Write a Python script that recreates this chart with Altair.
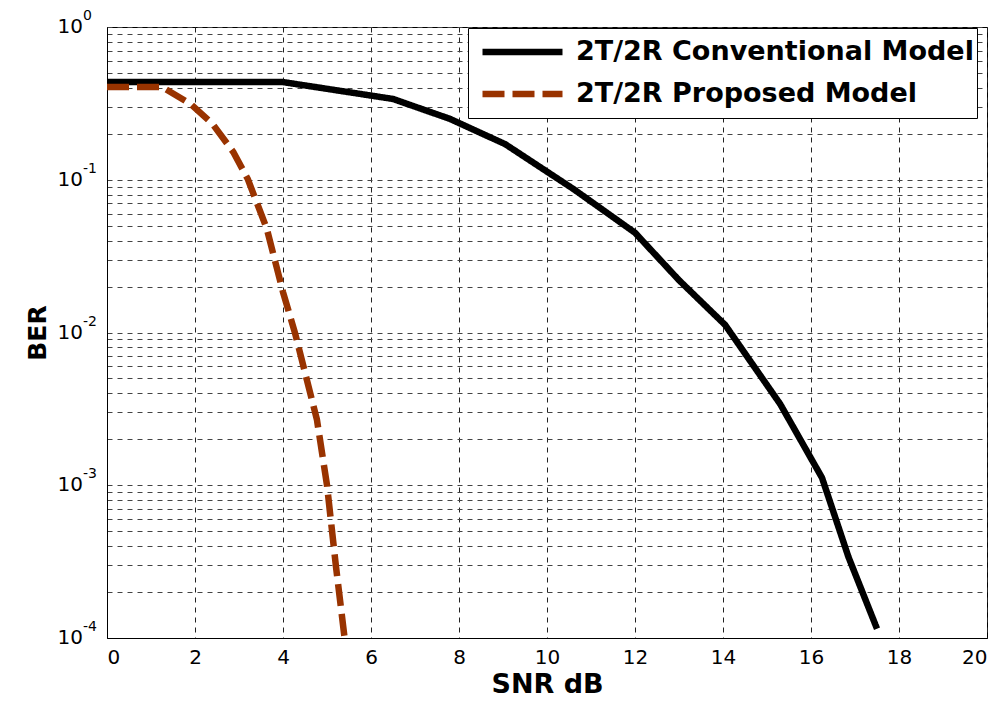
import altair as alt
import pandas as pd

# ---- data ----
conv_snr = [0, 4, 6.5, 7.8, 9.05, 10.6, 12.0, 13.0, 14.05, 15.3, 16.25, 16.85, 17.5]
conv_ber = [0.436, 0.436, 0.338, 0.25, 0.171, 0.087, 0.045, 0.022, 0.0112, 0.0034, 0.00112, 0.00034, 0.000115]

prop_snr = [0, 1.25, 1.9, 2.4, 2.87, 3.2, 3.63, 4.0, 4.27, 4.77, 5.0, 5.2, 5.4]
prop_ber = [0.405, 0.405, 0.313, 0.232, 0.152, 0.101, 0.048, 0.0184, 0.010, 0.0027, 0.001, 0.0003, 0.0001]

series_names = ["2T/2R Conventional Model", "2T/2R Proposed Model"]
series_colors = ["#000000", "#993300"]
series_dash = [[1, 0], [22, 8]]

x_ticks = list(range(0, 21, 2))
y_powers = [0, -1, -2, -3, -4]
y_grid = [1.0] + [k * 10.0 ** p for p in range(-4, 0) for k in range(1, 10)]

FONT = "DejaVu Sans"

df = pd.concat([
    pd.DataFrame({"snr": conv_snr, "ber": conv_ber, "series": series_names[0], "order": range(len(conv_snr))}),
    pd.DataFrame({"snr": prop_snr, "ber": prop_ber, "series": series_names[1], "order": range(len(prop_snr))}),
])

ylabels = pd.DataFrame({"value": [10.0 ** p for p in y_powers], "exp": [str(p) for p in y_powers]})

xscale = alt.Scale(domain=[0, 20], nice=False, zero=False)
yscale = alt.Scale(type="log", domain=[1e-4, 1], nice=False)

lines = alt.Chart(df).mark_line(strokeWidth=6.5).encode(
    x=alt.X("snr:Q", scale=xscale,
            axis=alt.Axis(values=x_ticks, title="SNR dB", grid=True, ticks=False,
                          labelFont=FONT, labelFontSize=20, labelColor="black", labelPadding=9,
                          titleFont=FONT, titleFontSize=27, titleFontWeight="bold", titleColor="black",
                          titlePadding=4, gridDash=[5, 5], gridColor="#222222", domainColor="black")),
    y=alt.Y("ber:Q", scale=yscale,
            axis=alt.Axis(values=y_grid, title="BER", labels=False, grid=True, ticks=False,
                          titleFont=FONT, titleFontSize=25, titleFontWeight="bold", titleColor="black",
                          titlePadding=57, gridDash=[5, 5], gridColor="#444444", domainColor="black")),
    color=alt.Color("series:N", scale=alt.Scale(domain=series_names, range=series_colors), title=None,
                    legend=alt.Legend(orient="none", legendX=361, legendY=1, symbolType="stroke",
                                      symbolSize=6400, symbolStrokeWidth=6.5, clipHeight=42,
                                      padding=3, rowPadding=0, labelFont=FONT, labelFontSize=27,
                                      labelFontWeight="bold", labelColor="black", labelLimit=0,
                                      labelOffset=10, symbolOffset=8, strokeColor="black",
                                      fillColor="white")),
    strokeDash=alt.StrokeDash("series:N", scale=alt.Scale(domain=series_names, range=series_dash), title=None),
    order="order:Q",
)

base_lbl = alt.Chart(ylabels).mark_text(align="right", baseline="middle", font=FONT, fontSize=20,
                                        color="black").encode(
    x=alt.value(-24), y=alt.Y("value:Q", scale=yscale), text=alt.value("10"))
exp_lbl = alt.Chart(ylabels).mark_text(align="left", baseline="middle", font=FONT, fontSize=14,
                                       color="black", dy=-11).encode(
    x=alt.value(-24), y=alt.Y("value:Q", scale=yscale), text="exp:N")

chart = alt.layer(lines, base_lbl, exp_lbl).properties(
    width=880, height=611,
    autosize=alt.AutoSizeParams(type="none"),
    padding={"left": 99, "top": 19, "right": 7, "bottom": 63},
    background="white",
).configure_view(stroke="black", strokeWidth=1)

chart.save("out.html", embed_options={"renderer": "svg", "actions": False})
